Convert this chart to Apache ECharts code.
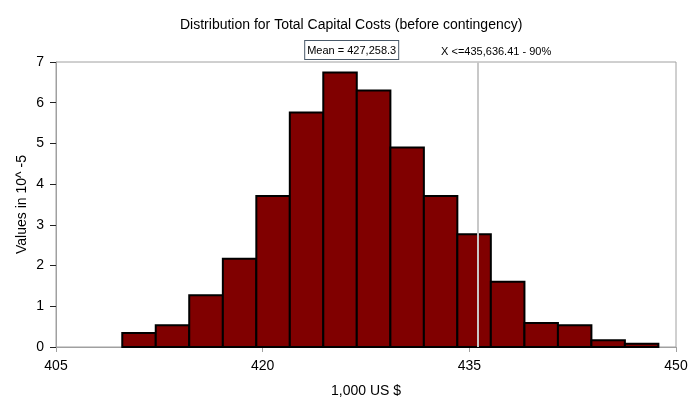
<!DOCTYPE html>
<html><head><meta charset="utf-8">
<script src="https://cdn.jsdelivr.net/npm/echarts@6/dist/echarts.min.js"></script>
<style>html,body{margin:0;padding:0;background:#fff}#c{width:700px;height:414px}</style>
</head><body><div id="c"></div>
<script>
// bin edges (1,000 US $)
const binEdges = [409.81, 412.24, 414.67, 417.11, 419.54, 421.97, 424.40, 426.83, 429.27, 431.70, 434.13, 436.56, 439.00, 441.43, 443.86, 446.29, 448.72];
// density values (x 10^-5)
const density = [0.345, 0.534, 1.27, 2.17, 3.71, 5.76, 6.74, 6.30, 4.90, 3.71, 2.77, 1.60, 0.59, 0.534, 0.165, 0.08];
const meanValue = 427.2583;
const meanLabel = 'Mean = 427,258.3';
const p90Value = 435.63641;
const p90Label = 'X <=435,636.41 - 90%';
const xTicks = [405, 420, 435, 450];
const yTicks = [0, 1, 2, 3, 4, 5, 6, 7];

const font = 'Liberation Sans, Arial, sans-serif';
const bars = density.map((v, i) => [binEdges[i], binEdges[i + 1], v]);

const chart = echarts.init(document.getElementById('c'));
chart.setOption({
  animation: false,
  backgroundColor: '#fff',
  textStyle: { fontFamily: font },
  title: {
    text: 'Distribution for Total Capital Costs (before contingency)',
    left: 175, top: 13,
    textStyle: { fontFamily: font, fontSize: 14, fontWeight: 'normal', color: '#000' }
  },
  grid: { left: 56, right: 24, top: 62, bottom: 67, show: true, borderColor: '#a0a0a0', borderWidth: 1, backgroundColor: 'transparent' },
  xAxis: {
    type: 'value', min: xTicks[0], max: xTicks[xTicks.length - 1], interval: 15,
    name: '1,000 US $', nameLocation: 'middle', nameGap: 37, nameMoveOverlap: false,
    nameTextStyle: { fontFamily: font, fontSize: 14, color: '#000' },
    axisLine: { show: true, lineStyle: { color: '#a0a0a0' } },
    axisTick: { show: true, length: 5, lineStyle: { color: '#a0a0a0' } },
    axisLabel: { fontFamily: font, fontSize: 14, color: '#000', margin: 12 },
    splitLine: { show: false }
  },
  yAxis: {
    type: 'value', min: yTicks[0], max: yTicks[yTicks.length - 1], interval: 1,
    name: 'Values in 10^ -5', nameLocation: 'middle', nameGap: 27, nameMoveOverlap: false,
    nameTextStyle: { fontFamily: font, fontSize: 14, color: '#000' },
    axisLine: { show: true, lineStyle: { color: '#a0a0a0' } },
    axisTick: { show: true, length: 6, lineStyle: { color: '#222' } },
    axisLabel: { fontFamily: font, fontSize: 14, color: '#000', margin: 12 },
    splitLine: { show: false }
  },
  series: [
    {
      type: 'custom',
      data: bars,
      encode: { x: [0, 1], y: 2 },
      renderItem: function (params, api) {
        const p0 = api.coord([api.value(0), api.value(2)]);
        const p1 = api.coord([api.value(1), 0]);
        return {
          type: 'rect',
          shape: { x: p0[0], y: p0[1], width: p1[0] - p0[0], height: p1[1] - p0[1] },
          style: { fill: '#800000', stroke: '#000', lineWidth: 2 }
        };
      },
      z: 2
    },
    {
      type: 'line', data: [], z: 3,
      markLine: {
        symbol: 'none', silent: true, animation: false,
        data: [
          {
            xAxis: p90Value,
            lineStyle: { color: '#c8c8c8', width: 2, type: 'solid' },
            label: { show: true, position: 'end', formatter: p90Label, fontFamily: font, fontSize: 11, color: '#000', distance: 5, offset: [18, 0] }
          },
          {
            xAxis: meanValue,
            lineStyle: { color: 'rgba(0,0,0,0)', width: 1, type: 'solid' },
            label: {
              show: true, position: 'end', formatter: meanLabel, fontFamily: font, fontSize: 11, color: '#000',
              distance: 3, offset: [-11, 0], backgroundColor: '#fff', borderColor: '#4a5a6a', borderWidth: 1, padding: [4, 2, 3, 2]
            }
          }
        ]
      }
    }
  ]
});
</script></body></html>
